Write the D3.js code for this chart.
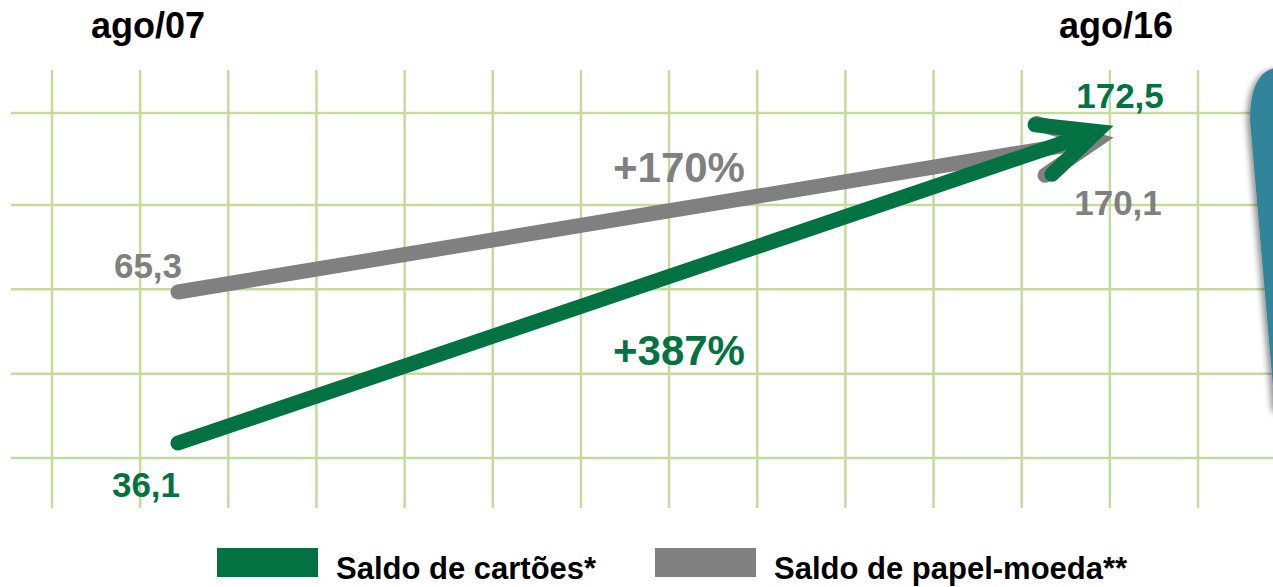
<!DOCTYPE html>
<html>
<head>
<meta charset="utf-8">
<script src="https://cdn.jsdelivr.net/npm/d3@7"></script>
<style>
  body { margin: 0; background: #fff; }
  svg { display: block; font-family: "Liberation Sans", Arial, sans-serif; font-weight: bold; }
</style>
</head>
<body>
<div id="chart"></div>
<script>
// Data
const periods = ['ago/07', 'ago/16'];
const periodDates = [new Date(2007, 7, 1), new Date(2016, 7, 1)];
const seriesNames = ['Saldo de cartões*', 'Saldo de papel-moeda**'];
const cartoes = [36.1, 172.5];
const papelMoeda = [65.3, 170.1];
const growth = ['+387%', '+170%'];
const colors = ['#037242', '#808080'];

const width = 1273, height = 587;

const svg = d3.select('#chart').append('svg')
    .attr('width', width)
    .attr('height', height);

const defs = svg.append('defs');
const shadow = defs.append('filter').attr('id', 'shadow')
    .attr('x', '-50%').attr('y', '-20%').attr('width', '200%').attr('height', '140%');
shadow.append('feGaussianBlur').attr('in', 'SourceAlpha').attr('stdDeviation', 3);
shadow.append('feOffset').attr('dx', -3).attr('dy', 2).attr('result', 'b');
shadow.append('feComponentTransfer').append('feFuncA').attr('type', 'linear').attr('slope', 0.45);
const merge = shadow.append('feMerge');
merge.append('feMergeNode');
merge.append('feMergeNode').attr('in', 'SourceGraphic');

// Scales: time across, value down (the picture is schematic, so piecewise)
const x = d3.scaleTime().domain(periodDates).range([178, 1110]);
const y = d3.scaleLinear()
    .domain([36.1, 65.3, 170.1, 172.5])
    .range([443, 292, 138, 127]);

// Decorative grid
const gridX = d3.scaleLinear().domain([0, 13]).range([52, 1198]);
const gridY = d3.scaleLinear().domain([0, 1, 4]).range([113, 205, 458]);
const grid = svg.append('g').attr('stroke', '#c5da9f').attr('stroke-width', 2.5);
grid.selectAll('line.v').data(d3.range(14)).join('line')
    .attr('class', 'v')
    .attr('x1', d => gridX(d)).attr('x2', d => gridX(d))
    .attr('y1', 70).attr('y2', 508);
grid.selectAll('line.h').data(d3.range(5)).join('line')
    .attr('class', 'h')
    .attr('x1', 11).attr('x2', width)
    .attr('y1', d => gridY(d)).attr('y2', d => gridY(d));

// Teal callout cut off at the right edge
const blob = d3.path();
blob.moveTo(1285, 68);
blob.lineTo(1274, 68);
blob.quadraticCurveTo(1250, 74, 1250, 120);
blob.lineTo(1275, 410);
blob.lineTo(1285, 410);
blob.closePath();
svg.append('path')
    .attr('d', blob.toString())
    .attr('fill', '#31849b')
    .attr('filter', 'url(#shadow)');

// Arrows: gray first, green on top
const series = [
    { name: seriesNames[1], values: papelMoeda, color: colors[1] },
    { name: seriesNames[0], values: cartoes, color: colors[0] }
];

const arrows = svg.append('g');
series.forEach(s => {
    const x0 = x(periodDates[0]), y0 = y(s.values[0]);
    const x1 = x(periodDates[1]), y1 = y(s.values[1]);
    const ang = Math.atan2(y1 - y0, x1 - x0);
    // pull the centre tip back so the mitred outer tip lands on the point
    const tx = x1 - 14 * Math.cos(ang), ty = y1 - 14 * Math.sin(ang);
    const barb = 62, spread = 25 * Math.PI / 180;
    const g = arrows.append('g')
        .attr('fill', 'none')
        .attr('stroke', s.color)
        .attr('stroke-width', 15);
    g.append('line')
        .attr('x1', x0).attr('y1', y0)
        .attr('x2', tx - 10 * Math.cos(ang)).attr('y2', ty - 10 * Math.sin(ang))
        .attr('stroke-linecap', 'round');
    const head = d3.path();
    head.moveTo(tx - barb * Math.cos(ang - spread), ty - barb * Math.sin(ang - spread));
    head.lineTo(tx, ty);
    head.lineTo(tx - barb * Math.cos(ang + spread), ty - barb * Math.sin(ang + spread));
    g.append('path')
        .attr('d', head.toString())
        .attr('stroke-linecap', 'round')
        .attr('stroke-linejoin', 'miter')
        .attr('stroke-miterlimit', 4);
});

// Period labels
svg.selectAll('text.period').data(periods).join('text')
    .attr('class', 'period')
    .attr('x', (d, i) => x(periodDates[i]) + (i === 0 ? -30 : 6))
    .attr('y', 38)
    .attr('text-anchor', 'middle')
    .attr('font-size', 36)
    .attr('fill', '#000')
    .text(d => d);

// Value labels
const fmt = v => d3.format('.1f')(v).replace('.', ',');
const valueLabels = [
    { v: papelMoeda[0], i: 0, color: colors[1], dx: -30, dy: -14 },
    { v: cartoes[0], i: 0, color: colors[0], dx: -32, dy: 54 },
    { v: cartoes[1], i: 1, color: colors[0], dx: 10, dy: -19 },
    { v: papelMoeda[1], i: 1, color: colors[1], dx: 8, dy: 77 }
];
svg.selectAll('text.value').data(valueLabels).join('text')
    .attr('class', 'value')
    .attr('x', d => x(periodDates[d.i]) + d.dx)
    .attr('y', d => y(d.v) + d.dy)
    .attr('text-anchor', 'middle')
    .attr('font-size', 35)
    .attr('fill', d => d.color)
    .text(d => fmt(d.v));

// Growth labels
const midX = (x(periodDates[0]) + x(periodDates[1])) / 2;
svg.append('text')
    .attr('x', midX + 35).attr('y', 182)
    .attr('text-anchor', 'middle').attr('font-size', 42)
    .attr('fill', colors[1])
    .text(growth[1]);
svg.append('text')
    .attr('x', midX + 35).attr('y', 365)
    .attr('text-anchor', 'middle').attr('font-size', 42)
    .attr('fill', colors[0])
    .text(growth[0]);

// Legend
const legend = svg.selectAll('g.legend').data(seriesNames).join('g')
    .attr('class', 'legend')
    .attr('transform', (d, i) => `translate(${217 + i * 438},548)`);
legend.append('rect')
    .attr('width', 101).attr('height', 29)
    .attr('fill', (d, i) => colors[i]);
legend.append('text')
    .attr('x', 119).attr('y', 31)
    .attr('font-size', 31)
    .attr('fill', '#000')
    .text(d => d);
</script>
</body>
</html>
